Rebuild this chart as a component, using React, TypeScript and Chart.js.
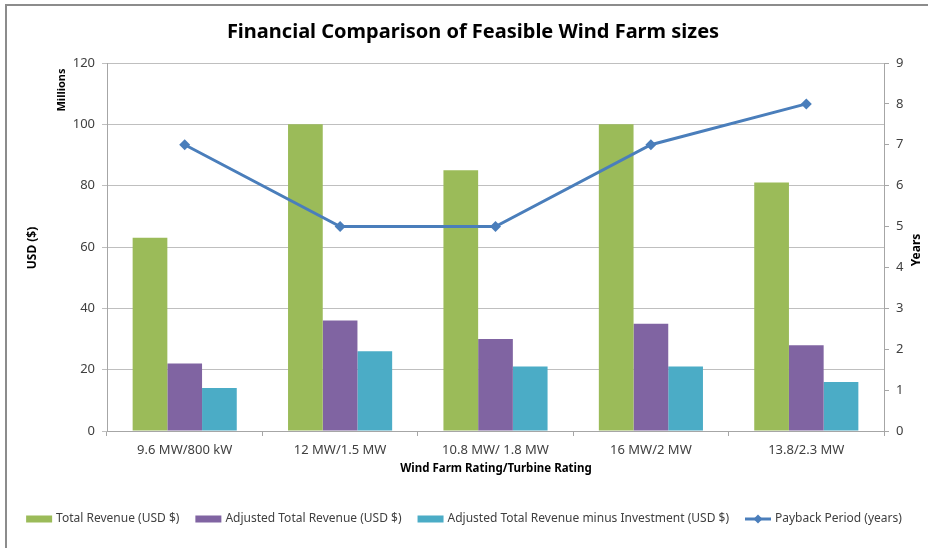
import React, { useEffect, useRef } from "react";
import { Chart, registerables } from "chart.js";

Chart.register(...registerables);

const categories = ["9.6 MW/800 kW", "12 MW/1.5 MW", "10.8 MW/ 1.8 MW", "16 MW/2 MW", "13.8/2.3 MW"];
const totalRevenue = [63, 100, 85, 100, 81];
const adjustedRevenue = [22, 36, 30, 35, 28];
const adjustedMinusInvestment = [14, 26, 21, 21, 16];
const paybackYears = [7, 5, 5, 7, 8];
const seriesLabels = [
  "Total Revenue (USD $)",
  "Adjusted Total Revenue (USD $)",
  "Adjusted Total Revenue minus Investment (USD $)",
  "Payback Period (years)",
];
const seriesColors = ["#9BBB59", "#8064A2", "#4BACC6", "#4A7EBB"];
const chartTitle = "Financial Comparison of Feasible Wind Farm sizes";
const xTitle = "Wind Farm Rating/Turbine Rating";
const yTitle = "USD ($)";
const yUnit = "Millions";
const y1Title = "Years";
const leftMax = 120;
const leftStep = 20;
const rightMax = 9;
const rightStep = 1;

const FONT = "'Noto Sans', sans-serif";

const textPlugin = {
  id: "texts",
  afterDraw(chart: any) {
    const ctx = chart.ctx as CanvasRenderingContext2D;
    ctx.save();
    // Title
    ctx.fillStyle = "#000000";
    ctx.font = `bold 20px ${FONT}`;
    ctx.textAlign = "center";
    ctx.textBaseline = "middle";
    ctx.fillText(chartTitle, 473, 32);

    // X axis title
    ctx.font = `bold 11.5px ${FONT}`;
    ctx.fillText(xTitle, 496, 469);

    // Y titles
    const rot = (t: string, x: number, y: number, f: string) => {
      ctx.save();
      ctx.translate(x, y);
      ctx.rotate(-Math.PI / 2);
      ctx.font = f;
      ctx.textAlign = "center";
      ctx.textBaseline = "middle";
      ctx.fillText(t, 0, 0);
      ctx.restore();
    };
    rot(yTitle, 33, 248, `bold 12px ${FONT}`);
    rot(yUnit, 62, 90, `bold 11px ${FONT}`);
    rot(y1Title, 917, 250, `bold 12px ${FONT}`);

    // Legend
    ctx.font = `12px ${FONT}`;
    ctx.textAlign = "left";
    ctx.textBaseline = "middle";
    const sw = 26;
    const gapText = 4;
    const gapItem = 16;
    const widths = seriesLabels.map((l) => sw + gapText + ctx.measureText(l).width);
    const total = widths.reduce((a, b) => a + b, 0) + gapItem * (widths.length - 1);
    let x = 464 - total / 2;
    const ly = 519;
    seriesLabels.forEach((label, i) => {
      const c = seriesColors[i];
      if (i < 3) {
        ctx.fillStyle = c;
        ctx.fillRect(x, ly - 3.5, sw, 7);
      } else {
        ctx.strokeStyle = c;
        ctx.lineWidth = 3;
        ctx.beginPath();
        ctx.moveTo(x, ly);
        ctx.lineTo(x + sw, ly);
        ctx.stroke();
        ctx.fillStyle = c;
        ctx.beginPath();
        const cx = x + sw / 2;
        ctx.moveTo(cx, ly - 4.5);
        ctx.lineTo(cx + 4.5, ly);
        ctx.lineTo(cx, ly + 4.5);
        ctx.lineTo(cx - 4.5, ly);
        ctx.closePath();
        ctx.fill();
      }
      ctx.fillStyle = "#404040";
      ctx.fillText(label, x + sw + gapText, ly);
      x += widths[i] + gapItem;
    });
    ctx.restore();
  },
};

export default function App() {
  const ref = useRef<HTMLCanvasElement | null>(null);

  useEffect(() => {
    if (!ref.current) return;
    const tickFont = { family: FONT, size: 13 };
    const chart = new Chart(ref.current, {
      type: "bar",
      data: {
        labels: categories,
        datasets: [
          {
            type: "line",
            label: seriesLabels[3],
            data: paybackYears,
            yAxisID: "y1",
            borderColor: seriesColors[3],
            backgroundColor: seriesColors[3],
            borderWidth: 3,
            pointStyle: "rectRot",
            pointRadius: 5.5,
            pointBackgroundColor: seriesColors[3],
            pointBorderColor: seriesColors[3],
            pointBorderWidth: 0,
            tension: 0,
            order: 0,
          } as any,
          {
            type: "bar",
            label: seriesLabels[0],
            data: totalRevenue,
            yAxisID: "y",
            backgroundColor: seriesColors[0],
            categoryPercentage: 0.67,
            barPercentage: 1,
            order: 1,
          },
          {
            type: "bar",
            label: seriesLabels[1],
            data: adjustedRevenue,
            yAxisID: "y",
            backgroundColor: seriesColors[1],
            categoryPercentage: 0.67,
            barPercentage: 1,
            order: 1,
          },
          {
            type: "bar",
            label: seriesLabels[2],
            data: adjustedMinusInvestment,
            yAxisID: "y",
            backgroundColor: seriesColors[2],
            categoryPercentage: 0.67,
            barPercentage: 1,
            order: 1,
          },
        ],
      },
      options: {
        responsive: false,
        animation: false,
        layout: { padding: { top: 63, bottom: 77, left: 0, right: 0 } },
        plugins: {
          legend: { display: false },
          title: { display: false },
          tooltip: { enabled: false },
        },
        scales: {
          x: {
            type: "category",
            offset: true,
            grid: {
              display: true,
              offset: true,
              drawOnChartArea: false,
              drawTicks: true,
              tickLength: 5,
              color: "#A6A6A6",
            },
            border: { display: true, color: "#A6A6A6" },
            ticks: { font: tickFont, color: "#404040", padding: 6, maxRotation: 0, autoSkip: false },
            afterFit: (s: any) => {
              s.height = 40;
            },
          },
          y: {
            position: "left",
            min: 0,
            max: leftMax,
            ticks: { stepSize: leftStep, font: tickFont, color: "#404040", padding: 7 },
            grid: { color: "#BFBFBF", tickLength: 5 },
            border: { display: true, color: "#A6A6A6" },
            afterFit: (s: any) => {
              s.width = 107;
            },
          },
          y1: {
            position: "right",
            min: 0,
            max: rightMax,
            ticks: { stepSize: rightStep, font: tickFont, color: "#404040", padding: 7 },
            grid: { drawOnChartArea: false, color: "#A6A6A6", tickLength: 5 },
            border: { display: true, color: "#A6A6A6" },
            afterFit: (s: any) => {
              s.width = 44;
            },
          },
        },
      } as any,
      plugins: [textPlugin],
    });
    return () => chart.destroy();
  }, []);

  return (
    <div style={{ position: "fixed", left: 0, top: 0, width: 928, height: 548, background: "#ffffff", overflow: "hidden" }}>
      <canvas ref={ref} width={928} height={548} style={{ position: "absolute", left: 0, top: 0, width: 928, height: 548 }} />
      <div
        style={{
          position: "absolute",
          left: 5,
          top: 4,
          width: 940,
          height: 560,
          borderLeft: "2px solid #8C8C8C",
          borderTop: "2px solid #8C8C8C",
          pointerEvents: "none",
        }}
      />
    </div>
  );
}
